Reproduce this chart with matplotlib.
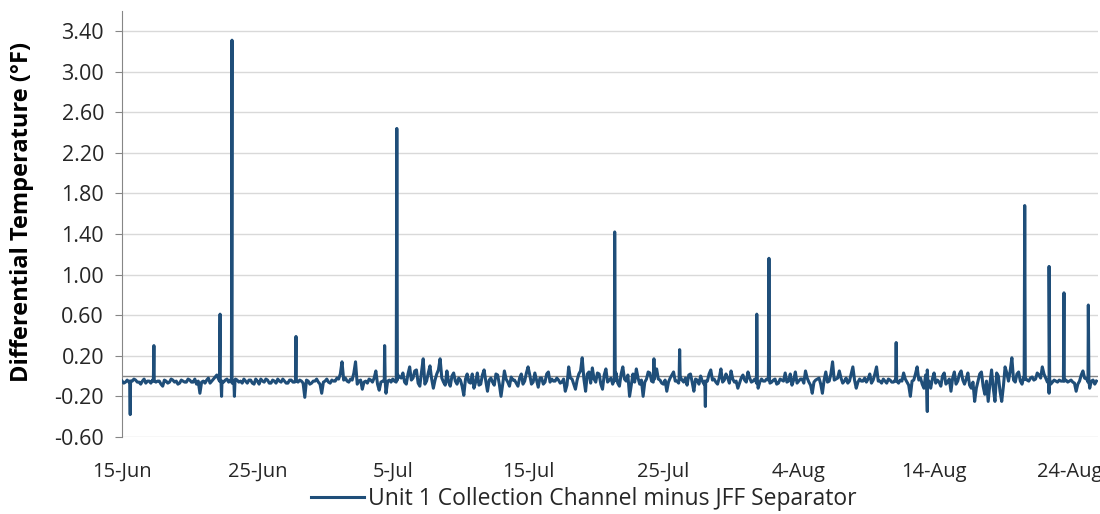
import matplotlib
matplotlib.use("Agg")
import matplotlib.dates as mdates
import matplotlib.pyplot as plt
import matplotlib.ticker as mticker
import numpy as np
import pandas as pd

START = pd.Timestamp("2019-06-15")

# readings at 00, 06, 12, 18 h each day, day 0 = 15-Jun
baseline = [
    -0.05, -0.06, -0.06, -0.05,
    -0.04, -0.06, -0.05, -0.07,
    -0.05, -0.04, -0.06, -0.05,
    -0.10, -0.05, -0.06, -0.04,
    -0.05, -0.07, -0.05, -0.06,
    -0.04, -0.06, -0.08, -0.17,
    -0.05, -0.04, -0.07, -0.03,
    0.01, -0.05, -0.06, -0.03,
    -0.04, -0.06, -0.04, -0.05,
    -0.03, -0.07, -0.04, -0.08,
    -0.05, -0.03, -0.06, -0.04,
    -0.07, -0.05, -0.03, -0.06,
    -0.05, -0.07, -0.04, -0.06,
    -0.06, -0.05, -0.21, -0.05,
    -0.07, -0.05, -0.06, -0.17,
    -0.05, -0.06, -0.04, -0.05,
    -0.03, 0.14, -0.02, -0.06,
    -0.04, 0.14, -0.05, -0.13,
    -0.05, -0.03, -0.06, 0.05,
    -0.14, -0.05, -0.17, -0.04,
    -0.03, -0.06, -0.01, 0.03,
    -0.08, 0.09, -0.02, 0.06,
    -0.10, 0.17, -0.05, 0.10,
    -0.12, 0.02, 0.17, -0.06,
    0.05, -0.10, 0.03, -0.08,
    -0.04, -0.19, 0.02, -0.07,
    -0.12, 0.03, -0.08, 0.06,
    -0.15, -0.02, -0.09, 0.01,
    -0.20, 0.05, -0.06, -0.01,
    -0.04, -0.10, 0.02, -0.05,
    0.09, -0.08, 0.03, -0.11,
    -0.02, -0.06, 0.04, -0.03,
    -0.05, -0.04, -0.06, -0.15,
    0.09, -0.03, -0.13, 0.02,
    0.18, -0.15, 0.04, 0.08,
    -0.06, 0.02, -0.13, 0.07,
    -0.04, -0.08, 0.03, -0.10,
    0.09, -0.05, -0.20, 0.02,
    0.07, -0.08, -0.20, -0.03,
    0.03, -0.06, 0.07, -0.04,
    -0.08, -0.15, -0.02, 0.04,
    -0.05, -0.01, -0.06, -0.09,
    0.02, -0.15, -0.04, 0.00,
    -0.08, -0.05, 0.06, -0.03,
    -0.08, 0.07, -0.04, -0.02,
    0.05, -0.06, -0.12, -0.02,
    -0.04, 0.04, -0.06, -0.03,
    -0.12, -0.03, -0.05, -0.04,
    -0.06, -0.03, -0.07, -0.04,
    0.03, -0.05, -0.09, 0.04,
    -0.05, -0.03, 0.05, -0.06,
    -0.17, -0.04, -0.02, -0.17,
    0.04, -0.05, 0.14, -0.03,
    0.05, -0.07, -0.02, -0.05,
    0.09, -0.12, -0.03, -0.05,
    -0.06, 0.02, -0.04, 0.09,
    -0.05, -0.03, -0.07, -0.04,
    -0.06, -0.05, -0.04, 0.03,
    -0.06, -0.20, -0.04, 0.09,
    -0.02, -0.12, 0.06, -0.12,
    0.03, -0.04, -0.10, 0.03,
    -0.06, -0.15, 0.04, -0.05,
    0.05, -0.08, 0.03, -0.12,
    -0.25, -0.05, 0.04, -0.18,
    -0.25, 0.06, -0.25, 0.00,
    -0.25, 0.09, -0.05, 0.18,
    -0.06, 0.04, -0.08, -0.02,
    -0.05, -0.01, -0.03, 0.01,
    0.09, -0.02, -0.17, -0.06,
    -0.05, -0.04, -0.05, -0.04,
    -0.05, -0.06, -0.15, -0.05,
    0.05, -0.03, -0.12, -0.04,
    -0.05,
]

# readings at 03, 09, 15, 21 h each day
baseline_mid = [
    -0.07, -0.04, -0.06, -0.03,
    -0.06, -0.08, -0.03, -0.05,
    -0.07, -0.03, -0.05, -0.08,
    -0.04, -0.07, -0.03, -0.06,
    -0.08, -0.04, -0.06, -0.03,
    -0.06, -0.03, -0.05, -0.06,
    -0.07, -0.02, -0.05, -0.01,
    -0.03, -0.08, -0.04, -0.06,
    -0.07, -0.03, -0.06, -0.07,
    -0.05, -0.04, -0.07, -0.03,
    -0.08, -0.05, -0.03, -0.07,
    -0.04, -0.07, -0.05, -0.03,
    -0.07, -0.04, -0.06, -0.03,
    -0.04, -0.07, -0.04, -0.08,
    -0.05, -0.03, -0.08, -0.06,
    -0.03, -0.07, -0.05, -0.02,
    0.02, -0.04, -0.05, -0.03,
    0.03, -0.08, -0.04, -0.06,
    -0.07, -0.04, -0.02, -0.08,
    -0.06, -0.03, -0.05, -0.06,
    -0.05, 0.01, -0.02, -0.06,
    0.02, -0.04, 0.05, -0.07,
    0.04, -0.08, 0.03, -0.03,
    -0.04, 0.06, -0.02, -0.09,
    -0.06, 0.00, -0.05, -0.02,
    -0.10, -0.03, -0.06, 0.02,
    -0.06, -0.09, 0.01, -0.05,
    -0.04, -0.06, 0.02, -0.08,
    -0.08, -0.03, -0.10, -0.04,
    -0.07, -0.02, -0.08, 0.03,
    0.01, -0.06, -0.04, -0.02,
    -0.08, 0.02, -0.06, -0.05,
    -0.02, -0.07, -0.03, -0.09,
    -0.02, -0.08, -0.04, 0.05,
    -0.03, 0.02, -0.07, -0.03,
    0.03, -0.08, 0.01, -0.06,
    -0.02, -0.05, -0.07, 0.02,
    -0.03, 0.01, -0.09, -0.06,
    -0.02, -0.04, -0.06, 0.04,
    -0.05, 0.02, -0.03, -0.07,
    -0.04, -0.06, 0.01, -0.05,
    -0.07, -0.04, -0.02, 0.01,
    -0.06, -0.03, -0.08, -0.05,
    -0.07, 0.02, -0.04, -0.06,
    -0.02, -0.06, 0.02, -0.07,
    -0.03, -0.05, -0.07, 0.01,
    -0.06, -0.02, -0.05, -0.07,
    -0.06, -0.05, -0.03, -0.07,
    -0.04, -0.08, -0.03, -0.05,
    -0.06, 0.02, -0.04, -0.07,
    -0.03, -0.07, -0.02, -0.09,
    -0.06, -0.03, -0.08, -0.04,
    -0.06, 0.02, -0.04, -0.02,
    -0.02, -0.05, -0.07, 0.02,
    -0.04, -0.06, -0.05, -0.02,
    -0.03, -0.07, 0.02, -0.05,
    -0.07, -0.05, -0.03, -0.06,
    -0.04, -0.07, -0.05, -0.03,
    -0.09, -0.05, 0.02, -0.04,
    -0.08, 0.01, -0.05, -0.03,
    -0.07, -0.06, 0.00, -0.08,
    -0.03, -0.02, -0.08, 0.02,
    -0.04, -0.03, -0.09, -0.06,
    -0.12, 0.02, -0.10, -0.05,
    -0.08, -0.12, 0.03, -0.15,
    -0.10, 0.03, 0.05, -0.04,
    0.02, -0.05, -0.01, -0.04,
    -0.02, -0.04, 0.03, -0.02,
    0.02, -0.06, -0.08, -0.04,
    -0.06, -0.05, -0.04, -0.06,
    -0.04, -0.07, -0.08, 0.01,
    -0.02, -0.06, -0.05, -0.08,
]

# short one-hour events (spikes / dips): day offset, peak value, value either side
spike_day = [0.6, 2.35, 7.24, 7.35, 8.12, 8.3, 12.85, 19.4, 20.3, 36.4, 39.3,
             41.2, 43.1, 46.9, 47.8, 57.2, 59.5, 66.7, 68.5, 69.6, 71.4]
spike_peak = [-0.38, 0.30, 0.61, -0.20, 3.31, -0.20, 0.39, 0.30, 2.44, 1.42, 0.17,
              0.26, -0.30, 0.61, 1.16, 0.33, -0.35, 1.68, 1.08, 0.82, 0.70]
spike_foot = [-0.05, -0.05, -0.05, -0.05, -0.05, -0.05, -0.05, -0.05, -0.04, -0.04, -0.03,
              -0.03, -0.05, -0.04, -0.04, -0.05, -0.05, -0.03, -0.03, -0.05, -0.04]

series_name = "Unit 1 Collection Channel minus JFF Separator"
y_ticks = [-0.60, -0.20, 0.20, 0.60, 1.00, 1.40, 1.80, 2.20, 2.60, 3.00, 3.40]
x_tick_days = [0, 10, 20, 30, 40, 50, 60, 70]

# assemble the series
days = list(np.arange(len(baseline)) * 0.25) + list(np.arange(len(baseline_mid)) * 0.25 + 0.125)
vals = list(baseline) + list(baseline_mid)
hour = 1 / 24
for d, p, f in zip(spike_day, spike_peak, spike_foot):
    days += [d - hour, d, d + hour]
    vals += [f, p, f]
df = pd.DataFrame({"day": days, "val": vals}).sort_values("day")
df["ts"] = START + pd.to_timedelta(df["day"], unit="D")

plt.rcParams["font.family"] = ["Open Sans", "DejaVu Sans"]

fig = plt.figure(figsize=(11, 5.14), dpi=100)
ax = fig.add_axes([0.111, 0.15, 0.887, 0.829])

ax.plot(df["ts"], df["val"], color="#1F4E79", lw=2.2, label=series_name, zorder=3)
ax.axhline(0, color="#868686", lw=1.0, zorder=2)

ax.set_ylim(-0.6, 3.6)
ax.set_xlim(START, START + pd.Timedelta(days=72.1))
ax.set_yticks(y_ticks)
ax.yaxis.set_major_formatter(mticker.FormatStrFormatter("%.2f"))
ax.set_xticks([START + pd.Timedelta(days=d) for d in x_tick_days])
ax.xaxis.set_major_formatter(
    mticker.FuncFormatter(lambda v, _: f"{mdates.num2date(v).day}-{mdates.num2date(v):%b}")
)

ax.grid(axis="y", color="#d9d9d9", lw=1.0, zorder=0)
for s in ["top", "right", "bottom"]:
    ax.spines[s].set_visible(False)
ax.spines["left"].set_color("#868686")
ax.tick_params(axis="y", length=5, color="#868686", labelsize=15.5, labelcolor="#262626", pad=8)
ax.tick_params(axis="x", length=0, labelsize=14.5, labelcolor="#262626", pad=18)

fig.text(0.02, 0.588, "Differential Temperature (°F)", rotation=90, ha="center", va="center",
         fontsize=17, fontweight="bold", color="#000000")

fig.legend(loc="lower center", bbox_to_anchor=(0.531, -0.035), frameon=False, fontsize=16.5,
           handlelength=2.3, handletextpad=0.2, labelcolor="#262626")

fig.savefig("out.png", dpi=100)
